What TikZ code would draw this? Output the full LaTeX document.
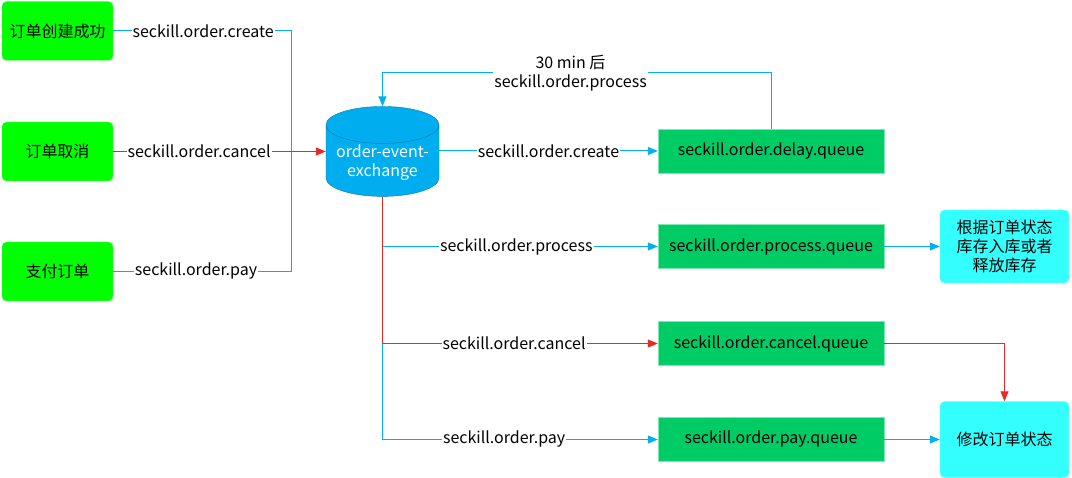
\documentclass[tikz,border=0pt]{standalone}
\usepackage{fontspec}
\setmainfont{Noto Sans CJK SC}
\usetikzlibrary{positioning, arrows.meta, shapes.geometric}
\definecolor{green1}{RGB}{0,255,0}
\definecolor{green2}{RGB}{0,204,102}
\definecolor{cyan1}{RGB}{51,255,255}
\definecolor{blue1}{RGB}{0,174,239}
\definecolor{line1c}{RGB}{0,176,240}
\definecolor{red1}{RGB}{235,40,40}
\tikzset{
  rect1/.style = {
    shape = rectangle,
    draw = green1!50!white,
    fill = green1,
    rounded corners = 1.5mm,
    align = center,
    minimum width = 111pt,
    minimum height = 59pt,
  },
  rect2/.style = {
    shape = rectangle,
    draw = green2!50!white,
    fill = green2,
    align = center,
    minimum width = 226pt,
    minimum height = 44pt,
  },
  rect3/.style = {
    shape = rectangle,
    draw = cyan1!50!white,
    fill = cyan1,
    rounded corners = 1.5mm,
    align = center,
    minimum width = 129pt,
  },
  cyl1/.style = {
    shape = cylinder,
    shape border rotate = 90,
    aspect = 0.39,
    draw = blue1!70!black,
    fill = blue1,
    text = white,
    align = center,
    inner sep = 1pt,
    minimum width = 113pt,
    minimum height = 72pt,
  },
  lab1/.style = {
    fill = white,
    inner sep = 1pt,
    align = center,
  }
}
\tikzset{
  line1/.style = {
    draw = line1c, line width = 1pt,
  },
  arrow1/.style = {
    draw = line1c, line width = 1pt, -{Triangle[length = 10pt, width = 8pt]},
  },
  arrow2/.style = {
    draw = red1, line width = 1pt, -{Triangle[length = 10pt, width = 8pt]},
  }
}
\begin{document}
\begin{tikzpicture}[x = 1pt, y = -1pt, font = \fontsize{16}{19}\selectfont]
        \useasboundingbox (0,0) rectangle (1072,478);
        \node[rect1](1) at (57.5,31){订单创建成功};
        \node[rect1](2) at (57.5,151.5){订单取消};
        \node[rect1](3) at (57.5,271.5){支付订单};
        \node[cyl1](0) at (382.5,162.5){order-event-\\exchange};
        \node[rect2](4) at (771,151){seckill.order.delay.queue};
        \node[rect2](5) at (771,246.5){seckill.order.process.queue};
        \node[rect2](6) at (771,343.5){seckill.order.cancel.queue};
        \node[rect2](7) at (771,439.5){seckill.order.pay.queue};
        \node[rect3, minimum height = 73pt](8) at (1004.5,246.5){根据订单状态\\库存入库或者\\释放库存};
        \node[rect3, minimum height = 76pt](9) at (1004.5,439.5){修改订单状态};
        \coordinate (j) at (291,151);
        \coordinate (t) at (771,73);
        \draw[line1](1.east) -| node[lab1, pos = 0.253]{seckill.order.create} (j);
        \draw[line1](3.east) -| node[lab1, pos = 0.233]{seckill.order.pay} (j);
        \draw[arrow2](2.east) -- node[lab1, pos = 0.404]{seckill.order.cancel} (2.east -| 0.west);
        \draw[arrow1](0.east |- 4.west) -- node[lab1]{seckill.order.create} (4.west);
        \draw[arrow1](4.north) -- (t) -| node[lab1, pos = 0.258]{30 min 后\\seckill.order.process} (0.north);
        \draw[arrow1](0.south) |- node[lab1, pos = 0.743]{seckill.order.process} (5.west);
        \draw[arrow1](0.south) |- node[lab1, pos = 0.721]{seckill.order.pay} (7.west);
        \draw[arrow2](0.south) |- node[lab1, pos = 0.739]{seckill.order.cancel} (6.west);
        \draw[arrow1](5.east) -- (8.west);
        \draw[arrow1](7.east) -- (9.west);
        \draw[arrow2](6.east) -| (9.north);
    \end{tikzpicture}
\end{document}
